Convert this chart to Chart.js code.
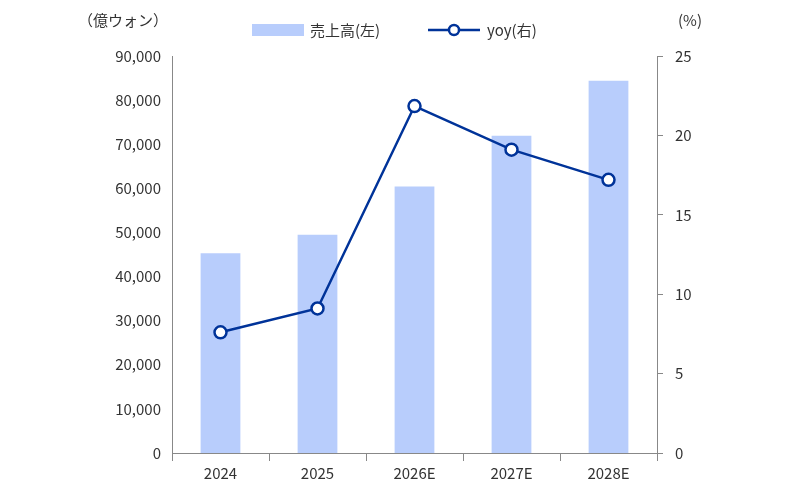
<!DOCTYPE html>
<html><head><meta charset="utf-8">
<script src="https://cdn.jsdelivr.net/npm/chart.js@4"></script>
<style>html,body{margin:0;padding:0;background:#fff}#w{width:800px;height:503px}</style>
</head><body><div id="w"><canvas id="c"></canvas></div>
<script>
const categories=['2024','2025','2026E','2027E','2028E'];
const sales=[45300,49500,60400,71900,84400];
const yoy=[7.6,9.1,21.85,19.1,17.2];
const F="'Noto Sans CJK JP','Noto Sans',sans-serif";
const titles={id:'titles',afterDraw(ch){const c=ch.ctx;c.save();c.font='15px '+F;c.fillStyle='#333';c.textBaseline='middle';
c.textAlign='left';c.fillText('（億ウォン）',78,20);c.fillText('(%)',678,20);
c.fillText(ch.data.datasets[1].label,310,30);c.fillText(ch.data.datasets[0].label,487,30);
c.fillStyle='#b8cdfc';c.fillRect(252,24,52,12);
c.strokeStyle='#003399';c.lineWidth=2.5;c.beginPath();c.moveTo(428,30);c.lineTo(480,30);c.stroke();
c.fillStyle='#fff';c.beginPath();c.arc(454,30,5,0,Math.PI*2);c.fill();c.stroke();
c.restore();}};
new Chart(document.getElementById('c'),{
data:{labels:categories,datasets:[
{type:'line',label:'yoy(右)',data:yoy,yAxisID:'y1',borderColor:'#003399',borderWidth:2.5,pointRadius:6,pointBorderWidth:2.5,pointBackgroundColor:'#fff',pointBorderColor:'#003399',order:0},
{type:'bar',label:'売上高(左)',data:sales,yAxisID:'y',backgroundColor:'#b8cdfc',categoryPercentage:0.82,barPercentage:0.5,order:1}
]},
options:{responsive:true,maintainAspectRatio:false,animation:false,
layout:{padding:{top:56,left:102,right:98,bottom:18}},
plugins:{legend:{display:false},tooltip:{enabled:false}},
scales:{
x:{grid:{display:true,drawOnChartArea:false,offset:true,tickLength:8,color:'#888'},border:{color:'#888'},ticks:{font:{size:15,family:F},color:'#333'}},
y:{position:'left',min:0,max:90000,afterFit(s){s.width=70},ticks:{stepSize:10000,font:{size:15,family:F},color:'#333',callback:v=>v.toLocaleString('en-US')},grid:{display:false},border:{color:'#888'}},
y1:{position:'right',min:0,max:25,afterFit(s){s.width=45},ticks:{stepSize:5,font:{size:15,family:F},color:'#333',padding:12},grid:{display:true,drawOnChartArea:false,tickLength:6,color:'#888'},border:{color:'#888'}}
}},plugins:[titles]});
</script></body></html>
